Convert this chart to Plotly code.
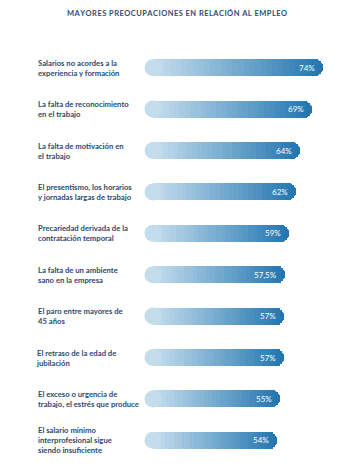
import plotly.graph_objects as go

categories = [
    "Salarios no acordes a la<br>experiencia y formación",
    "La falta de reconocimiento<br>en el trabajo",
    "La falta de motivación en<br>el trabajo",
    "El presentismo, los horarios<br>y jornadas largas de trabajo",
    "Precariedad derivada de la<br>contratación temporal",
    "La falta de un ambiente<br>sano en la empresa",
    "El paro entre mayores de<br>45 años",
    "El retraso de la edad de<br>jubilación",
    "El exceso o urgencia de<br>trabajo, el estrés que produce",
    "El salario mínimo<br>interprofesional sigue<br>siendo insuficiente",
]
values = [74, 69, 64, 62, 59, 57.5, 57, 57, 55, 54]
value_labels = ["74%", "69%", "64%", "62%", "59%", "57,5%", "57%", "57%", "55%", "54%"]
title_text = "MAYORES PREOCUPACIONES EN RELACIÓN AL EMPLEO"

W, H = 354, 474
MT, MB = 47, 13
x0_px = 153.0
scale = 2.30  # px per %
x_max = (W - x0_px) / scale

dark = (35, 118, 176)
light = (196, 221, 237)
N = 30
ypos = list(range(len(categories)))

fig = go.Figure()
for k in range(N):
    t = k / (N - 1)
    c = tuple(round(dark[i] + (light[i] - dark[i]) * t) for i in range(3))
    frac = (N - k) / N
    fig.add_trace(go.Bar(
        x=[v * frac for v in values], y=ypos, orientation="h",
        width=0.41,
        marker=dict(color="rgb(%d,%d,%d)" % c, line=dict(width=0),
                    cornerradius="50%" if k == 0 else 0),
        hoverinfo="skip", showlegend=False,
    ))

# rounded left caps
fig.add_trace(go.Scatter(
    x=[0] * len(values), y=ypos, mode="markers",
    marker=dict(size=17, color="rgb(%d,%d,%d)" % light, line=dict(width=0)),
    cliponaxis=False, hoverinfo="skip", showlegend=False,
))

annotations = []
for yi, (v, lab, cat) in enumerate(zip(values, value_labels, categories)):
    annotations.append(dict(
        x=v, y=yi, xref="x", yref="y", text=lab, showarrow=False,
        xanchor="right", yanchor="middle", xshift=-6,
        font=dict(family="Lato, sans-serif", size=8, color="white"),
    ))
    # glyph 'j' at a line start overhangs left and pushes the box; compensate
    starts_j = any(line.startswith("j") for line in cat.split("<br>"))
    annotations.append(dict(
        x=36 / W, y=yi, xref="paper", yref="y", text=cat, showarrow=False,
        xanchor="left", yanchor="middle", align="left",
        xshift=-2 if starts_j else 0,
        font=dict(family="Lato, sans-serif", size=7.7, color="#2b4a6e", weight="bold"),
    ))

plot_h = H - MT - MB
spaced_title = "\u200a".join(title_text)
annotations.append(dict(
    x=0.5, y=1 + (MT - 13) / plot_h, xref="paper", yref="paper", yanchor="middle",
    text="<b>" + spaced_title + "</b>", showarrow=False,
    font=dict(family="Lato, sans-serif", size=7.5, color="#2d4d70"),
))

fig.update_layout(
    width=W, height=H, barmode="overlay", bargap=0,
    margin=dict(l=0, r=0, t=MT, b=MB),
    paper_bgcolor="white", plot_bgcolor="white",
    xaxis=dict(domain=[x0_px / W, 1], range=[0, x_max], visible=False, fixedrange=True),
    yaxis=dict(range=[len(values) - 0.5, -0.5], visible=False, fixedrange=True),
    annotations=annotations,
)

fig.write_html("out.html")
